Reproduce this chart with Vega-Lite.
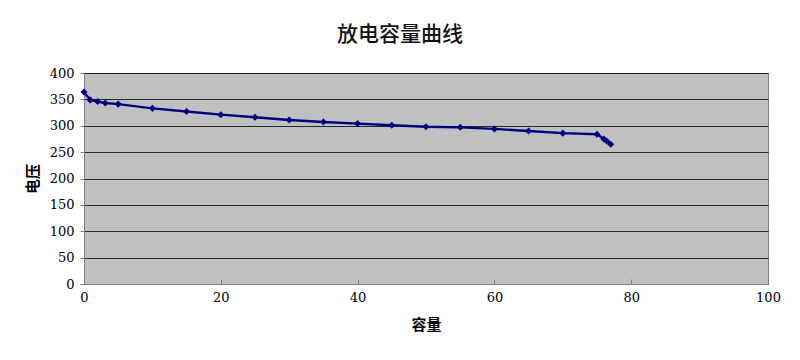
{
  "$schema": "https://vega.github.io/schema/vega-lite/v6.json",
  "width": 684,
  "height": 211,
  "autosize": {"type": "none"},
  "padding": {"left": 84, "top": 73, "right": 32, "bottom": 76},
  "background": "white",
  "title": {
    "text": "放电容量曲线",
    "font": "Noto Sans CJK SC",
    "fontSize": 21,
    "fontWeight": 500,
    "color": "#111111",
    "anchor": "middle",
    "dx": -26,
    "offset": 22
  },
  "config": {
    "view": {"fill": "#c0c0c0", "stroke": "#808080", "strokeWidth": 1},
    "axis": {
      "labelFont": "DejaVu Serif",
      "labelFontSize": 13,
      "labelColor": "#000000",
      "titleFont": "Noto Sans CJK SC",
      "titleFontSize": 15,
      "titleFontWeight": "bold",
      "titleColor": "#000000",
      "domainColor": "#808080",
      "tickColor": "#808080",
      "labelFlush": false
    }
  },
  "data": {
    "values": [
      {"c": 0, "v": 364},
      {"c": 0.9, "v": 349},
      {"c": 2, "v": 346},
      {"c": 3.1, "v": 343},
      {"c": 5, "v": 341},
      {"c": 10, "v": 333},
      {"c": 15, "v": 327},
      {"c": 20, "v": 321},
      {"c": 25, "v": 316},
      {"c": 30, "v": 311},
      {"c": 35, "v": 307},
      {"c": 40, "v": 304},
      {"c": 45, "v": 301},
      {"c": 50, "v": 298},
      {"c": 55, "v": 297},
      {"c": 60, "v": 294},
      {"c": 65, "v": 290},
      {"c": 70, "v": 286},
      {"c": 75, "v": 284},
      {"c": 76, "v": 275},
      {"c": 76.4, "v": 271},
      {"c": 77, "v": 265}
    ]
  },
  "encoding": {
    "x": {
      "field": "c",
      "type": "quantitative",
      "title": "容量",
      "scale": {"domain": [0, 100], "nice": false, "zero": true},
      "axis": {
        "values": [0, 20, 40, 60, 80, 100],
        "grid": false,
        "tickSize": -5,
        "labelPadding": 12,
        "titlePadding": 13
      }
    },
    "y": {
      "field": "v",
      "type": "quantitative",
      "title": "电压",
      "scale": {"domain": [0, 400], "nice": false},
      "axis": {
        "values": [0, 50, 100, 150, 200, 250, 300, 350, 400],
        "grid": true,
        "gridColor": "#000000",
        "gridOpacity": 0.8,
        "gridWidth": 1,
        "tickSize": 4,
        "labelPadding": 6,
        "titlePadding": 9
      }
    }
  },
  "layer": [
    {"mark": {"type": "line", "color": "#000080", "strokeWidth": 2.4}},
    {"mark": {"type": "point", "shape": "diamond", "filled": true, "color": "#000080", "size": 50, "opacity": 1}}
  ]
}
